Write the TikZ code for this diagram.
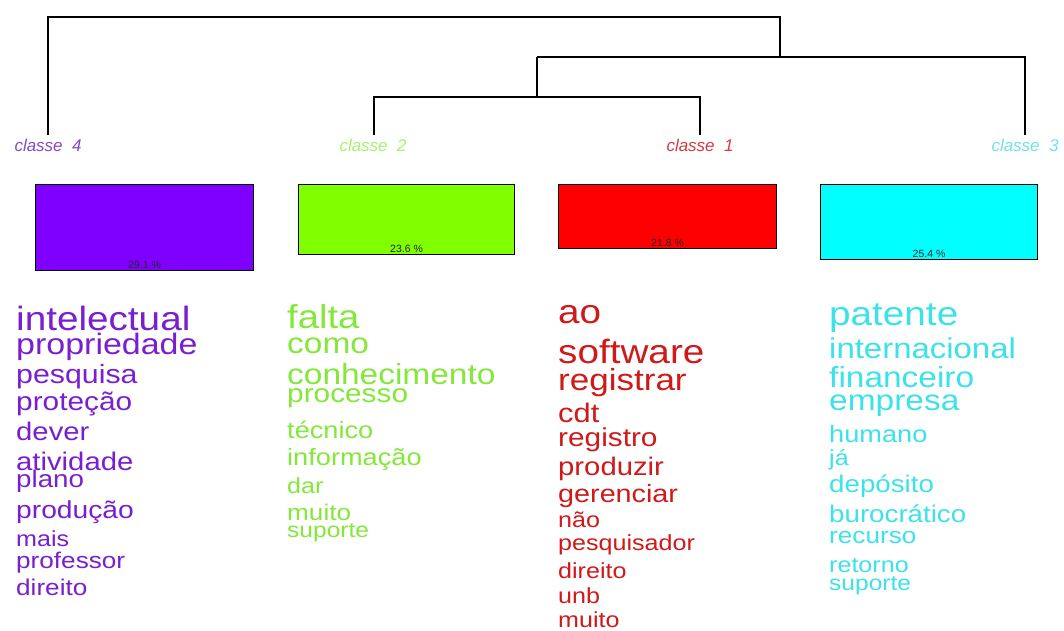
\documentclass[tikz,border=0pt]{standalone}
\usepackage{graphicx}
\usepackage{fontspec}
\setmainfont{Liberation Sans}
\definecolor{cpurple}{HTML}{7F00FF}
\definecolor{cgreen}{HTML}{80FF00}
\definecolor{cred}{HTML}{FF0000}
\definecolor{ccyan}{HTML}{00FFFF}
\definecolor{tpurple}{HTML}{7A1FD0}
\definecolor{tgreen}{HTML}{84E83A}
\definecolor{tred}{HTML}{D01A1A}
\definecolor{tcyan}{HTML}{3CE2EA}
\definecolor{lpurple}{HTML}{8848C8}
\definecolor{lgreen}{HTML}{A6F26E}
\definecolor{lred}{HTML}{D23A44}
\definecolor{lcyan}{HTML}{70E2EA}
\tikzset{
  dend/.style={draw=black, line width=1.3pt},
  classbox/.style={draw=black, line width=1.1pt, anchor=north west, inner sep=0pt},
  pct/.style={anchor=base, inner sep=0pt, font=\fontsize{10.5pt}{10.5pt}\selectfont, text=black!85},
  classlabel/.style={anchor=base, inner sep=0pt, font=\fontsize{17pt}{17pt}\selectfont\itshape},
  word/.style={anchor=base west, inner sep=0pt}
}
\newcommand{\wordsize}[1]{\fontsize{\fpeval{#1/1.1}pt}{\fpeval{#1/1.1}pt}\selectfont}
\newcommand{\wide}[1]{\scalebox{1.15}[1]{#1}}
\begin{document}
\begin{tikzpicture}[x=1pt, y=-1pt]
\useasboundingbox (0,0) rectangle (1064,630);
\fill[white] (0,0) rectangle (1064,630);

% class labels
\node[classlabel, text=lpurple] (c4) at (48,151) {classe\hspace{0.55em}4};
\node[classlabel, text=lgreen] (c2) at (373,151) {classe\hspace{0.55em}2};
\node[classlabel, text=lred] (c1) at (700,151) {classe\hspace{0.55em}1};
\node[classlabel, text=lcyan] (c3) at (1025,151) {classe\hspace{0.55em}3};

% dendrogram
\coordinate (t4) at (48,135);
\coordinate (t2) at (374,135);
\coordinate (t1) at (700,135);
\coordinate (t3) at (1025,135);
\coordinate (m12) at (537,97);
\coordinate (h12) at (537,57);
\coordinate (m123) at (780,57);
\coordinate (root) at (780,17);
\draw[dend] (t2) |- (m12);
\draw[dend] (t1) |- (m12);
\draw[dend] (m12) -- (h12);
\draw[dend] (t3) |- (h12);
\draw[dend] (t4) |- (root) -- (m123);

% boxes
\node[classbox, fill=cpurple, minimum width=218pt, minimum height=86pt] (b4) at (35,184) {};
\node[classbox, fill=cgreen, minimum width=216pt, minimum height=70pt] (b2) at (298,184) {};
\node[classbox, fill=cred, minimum width=218pt, minimum height=64pt] (b1) at (558,184) {};
\node[classbox, fill=ccyan, minimum width=217pt, minimum height=75pt] (b3) at (820,184) {};
\node[pct] (p4) at ([yshift=2.5pt]b4.south) {29.1 \%};
\node[pct] (p2) at ([yshift=2.5pt]b2.south) {23.6 \%};
\node[pct] (p1) at ([yshift=2.5pt]b1.south) {21.8 \%};
\node[pct] (p3) at ([yshift=2.5pt]b3.south) {25.4 \%};

% words class 4
\foreach \w/\s/\b [count=\i] in {intelectual/37/330, propriedade/32.5/354, pesquisa/29/383, proteção/28.5/410, dever/28/440, atividade/28/470, plano/26.5/487, produção/27/518, mais/24/546, professor/25/568, direito/25/595}
  \node[word, text=tpurple, font=\wordsize{\s}] (wa\i) at (16,\b) {\wide{\w}};

% words class 2
\foreach \w/\s/\b [count=\i] in {falta/36.5/328, como/32/353, conhecimento/32/384, processo/28.5/402, técnico/26/438, informação/26/465, dar/24/493, muito/25/520, suporte/23.5/537}
  \node[word, text=tgreen, font=\wordsize{\s}] (wb\i) at (287,\b) {\wide{\w}};

% words class 1
\foreach \w/\s/\b [count=\i] in {ao/37/323, software/37/363, registrar/33.5/390, cdt/29.5/422, registro/28.5/446, produzir/28/475, gerenciar/27.5/502, não/24/527, pesquisador/24/550, direito/24/578, unb/24/603, muito/24/627}
  \node[word, text=tred, font=\wordsize{\s}] (wc\i) at (558,\b) {\wide{\w}};

% words class 3
\foreach \w/\s/\b [count=\i] in {patente/37/325, internacional/31.5/358, financeiro/32/387, empresa/32/410, humano/26/442, já/24/465, depósito/26.5/492, burocrático/26.5/522, recurso/25/543, retorno/24/572, suporte/23.5/590}
  \node[word, text=tcyan, font=\wordsize{\s}] (wd\i) at (829,\b) {\wide{\w}};
\end{tikzpicture}
\end{document}
